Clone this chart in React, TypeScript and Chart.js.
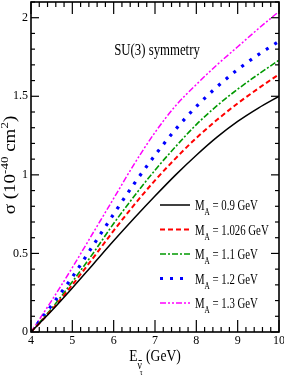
import React, { useEffect, useRef } from 'react';
import { Chart, registerables } from 'chart.js';
Chart.register(...registerables);

// ---- data ----
const energies = [4, 4.5, 5, 5.5, 6, 6.5, 7, 7.5, 8, 8.5, 9, 9.5, 10];
const sigmaMA09 = [0, 0.135, 0.28, 0.43, 0.58, 0.725, 0.865, 1.0, 1.125, 1.24, 1.34, 1.425, 1.5];
const sigmaMA1026 = [0, 0.14, 0.3, 0.47, 0.645, 0.81, 0.965, 1.105, 1.235, 1.35, 1.455, 1.55, 1.64];
const sigmaMA11 = [0, 0.15, 0.32, 0.5, 0.69, 0.865, 1.03, 1.18, 1.32, 1.44, 1.545, 1.64, 1.73];
const sigmaMA12 = [0, 0.17, 0.35, 0.55, 0.75, 0.945, 1.125, 1.29, 1.435, 1.56, 1.67, 1.765, 1.85];
const sigmaMA13 = [0, 0.2, 0.41, 0.63, 0.85, 1.07, 1.27, 1.44, 1.575, 1.7, 1.815, 1.93, 2.04];
const maLabels = ['0.9', '1.026', '1.1', '1.2', '1.3'];
const xTicks = [4, 5, 6, 7, 8, 9, 10];
const xTickLabels = ['4', '5', '6', '7', '8', '9', '10'];
const yTicks = [0, 0.5, 1, 1.5, 2];
const yTickLabels = ['0', '0.5', '1', '1.5', '2'];
const xMin = 4, xMax = 10, yMin = 0, yMax = 2.1;
const xMinorStep = 0.2, yMinorStep = 0.1;
const titleText = 'SU(3) symmetry';

const SERIF = '"Liberation Serif", "DejaVu Serif", serif';

const seriesStyles = [
  { color: '#000000', dash: [] as number[], width: 1.5 },
  { color: '#ff0000', dash: [5, 3], width: 2 },
  { color: '#009900', dash: [6, 2, 2, 2], width: 1.6 },
  { color: '#0000ff', dash: [3, 7], width: 3.2 },
  { color: '#ff00ff', dash: [6, 2, 2, 2, 2, 2], width: 1.5 },
];
const seriesValues = [sigmaMA09, sigmaMA1026, sigmaMA11, sigmaMA12, sigmaMA13];

function drawText(ctx: CanvasRenderingContext2D, text: string, x: number, y: number, size: number, sx: number) {
  ctx.save();
  ctx.font = `${size}px ${SERIF}`;
  const w = ctx.measureText(text).width * sx;
  ctx.translate(x, y);
  ctx.scale(sx, 1);
  ctx.textAlign = 'left';
  ctx.textBaseline = 'alphabetic';
  ctx.fillText(text, 0, 0);
  ctx.restore();
  return w;
}
function measure(ctx: CanvasRenderingContext2D, text: string, size: number, sx: number) {
  ctx.save();
  ctx.font = `${size}px ${SERIF}`;
  const w = ctx.measureText(text).width * sx;
  ctx.restore();
  return w;
}

const framePlugin = {
  id: 'frameTicks',
  afterDatasetsDraw(chart: any) {
    const { ctx, chartArea, scales } = chart;
    const { left, right, top, bottom } = chartArea;
    const xs = scales.x, ys = scales.y;
    ctx.save();
    ctx.strokeStyle = '#000';
    ctx.setLineDash([]);
    ctx.lineWidth = 1.2;
    const line = (a: number, b: number, c: number, d: number) => {
      ctx.beginPath(); ctx.moveTo(a, b); ctx.lineTo(c, d); ctx.stroke();
    };
    const nx = Math.round((xMax - xMin) / xMinorStep);
    for (let k = 0; k <= nx; k++) {
      const v = xMin + k * xMinorStep;
      const px = xs.getPixelForValue(v);
      const major = k % 5 === 0;
      const L = major ? 12 : 5;
      line(px, bottom, px, bottom - L);
      line(px, top, px, top + L);
    }
    const ny = Math.round((yMax - yMin) / yMinorStep);
    for (let k = 0; k <= ny; k++) {
      const v = yMin + k * yMinorStep;
      const py = ys.getPixelForValue(v);
      const major = k % 5 === 0;
      const L = major ? 8 : 4;
      line(left, py, left + L, py);
      line(right, py, right - L, py);
    }
    ctx.lineWidth = 1.6;
    ctx.strokeRect(left, top, right - left, bottom - top);
    ctx.restore();
  },
  afterDraw(chart: any) {
    const { ctx, chartArea } = chart;
    const { left, right, top, bottom } = chartArea;
    ctx.save();
    ctx.fillStyle = '#000';
    const sx = 0.8;

    // title inside plot
    const tw = measure(ctx, titleText, 16, sx);
    drawText(ctx, titleText, 157 - tw / 2, top + 53, 16, sx);

    // x axis title: E_{ν̄_τ} (GeV)
    const ex = (left + right) / 2;
    const wE = measure(ctx, 'E', 17, sx);
    const wNu = measure(ctx, 'ν', 12, sx);
    const wTau = measure(ctx, 'τ', 9, sx);
    const wG = measure(ctx, ' (GeV)', 17, sx);
    const total = wE + wNu + wTau * 0.3 + wG;
    let cx = ex - total / 2;
    const by = bottom + 29;
    cx += drawText(ctx, 'E', cx, by, 17, sx);
    drawText(ctx, 'ν', cx, by + 8, 12, sx);
    ctx.fillRect(cx + 1, by - 1, wNu - 1, 1);
    drawText(ctx, 'τ', cx + wNu * 0.55, by + 14, 9, sx);
    cx += wNu + wTau * 0.3;
    drawText(ctx, ' (GeV)', cx, by, 17, sx);

    // y axis title: σ (10^-40 cm^2), rotated
    const ySize = 19, supSize = 13;
    const parts = [
      { t: 'σ (10', s: ySize, up: 0 },
      { t: '-40', s: supSize, up: 8 },
      { t: ' cm', s: ySize, up: 0 },
      { t: '2', s: supSize, up: 8 },
      { t: ')', s: ySize, up: 0 },
    ];
    let tot = 0;
    parts.forEach(p => { tot += measure(ctx, p.t, p.s, 1); });
    const cy = (top + bottom) / 2 - 2;
    ctx.save();
    ctx.translate(15, cy);
    ctx.scale(0.85, 1);
    ctx.rotate(-Math.PI / 2);
    let px = -tot / 2;
    parts.forEach(p => {
      px += drawText(ctx, p.t, px, -p.up, p.s, 1);
    });
    ctx.restore();

    // legend
    const lx0 = 160, lx1 = 190, ly0 = 205, lstep = 24.5;
    seriesStyles.forEach((st, i) => {
      const ly = ly0 + i * lstep;
      ctx.save();
      ctx.strokeStyle = st.color;
      ctx.lineWidth = st.width;
      ctx.setLineDash(st.dash);
      ctx.beginPath(); ctx.moveTo(lx0, ly); ctx.lineTo(lx1, ly); ctx.stroke();
      ctx.restore();
      let tx = 195;
      const tb = ly + 5;
      tx += drawText(ctx, 'M', tx, tb, 15, 0.72);
      tx += drawText(ctx, 'A', tx, tb + 5, 10, 0.72);
      drawText(ctx, ` = ${maLabels[i]} GeV`, tx, tb, 15, 0.72);
    });
    ctx.restore();
  },
};

export default function App() {
  const ref = useRef<HTMLCanvasElement | null>(null);
  useEffect(() => {
    if (!ref.current) return;
    const chart = new Chart(ref.current, {
      type: 'line',
      data: {
        datasets: seriesValues.map((vals, i) => ({
          label: `M_A = ${maLabels[i]} GeV`,
          data: energies.map((e, j) => ({ x: e, y: vals[j] })),
          borderColor: seriesStyles[i].color,
          borderWidth: seriesStyles[i].width,
          borderDash: seriesStyles[i].dash,
          pointRadius: 0,
          fill: false,
          cubicInterpolationMode: 'monotone' as const,
        })),
      },
      options: {
        responsive: false,
        animation: false,
        devicePixelRatio: 1,
        layout: { padding: { left: 0, right: 5, top: 2, bottom: 0 } },
        plugins: { legend: { display: false }, tooltip: { enabled: false }, title: { display: false } },
        scales: {
          x: {
            type: 'linear',
            min: xMin,
            max: xMax,
            grid: { display: false, drawTicks: false, tickLength: 0 },
            border: { display: false },
            ticks: {
              padding: 2,
              color: '#000',
              font: { family: SERIF, size: 12 },
              maxRotation: 0,
              callback: (v: any) => {
                const i = xTicks.indexOf(Number(v));
                return i >= 0 ? xTickLabels[i] : '';
              },
            },
            afterBuildTicks: (s: any) => { s.ticks = xTicks.map(v => ({ value: v })); },
            afterFit: (s: any) => { s.height = 50; s.paddingLeft = 0; s.paddingRight = 0; },
          },
          y: {
            type: 'linear',
            min: yMin,
            max: yMax,
            grid: { display: false, drawTicks: false, tickLength: 0 },
            border: { display: false },
            ticks: {
              padding: 3,
              color: '#000',
              font: { family: SERIF, size: 12 },
              callback: (v: any) => {
                const i = yTicks.indexOf(Number(v));
                return i >= 0 ? yTickLabels[i] : '';
              },
            },
            afterBuildTicks: (s: any) => { s.ticks = yTicks.map(v => ({ value: v })); },
            afterFit: (s: any) => { s.width = 31; s.paddingTop = 0; s.paddingBottom = 0; },
          },
        },
      },
      plugins: [framePlugin],
    });
    return () => chart.destroy();
  }, []);
  return (
    <div style={{ position: 'fixed', left: 0, top: 0, width: 284, height: 382, background: '#fff' }}>
      <canvas ref={ref} width={284} height={382} style={{ display: 'block' }} />
    </div>
  );
}
